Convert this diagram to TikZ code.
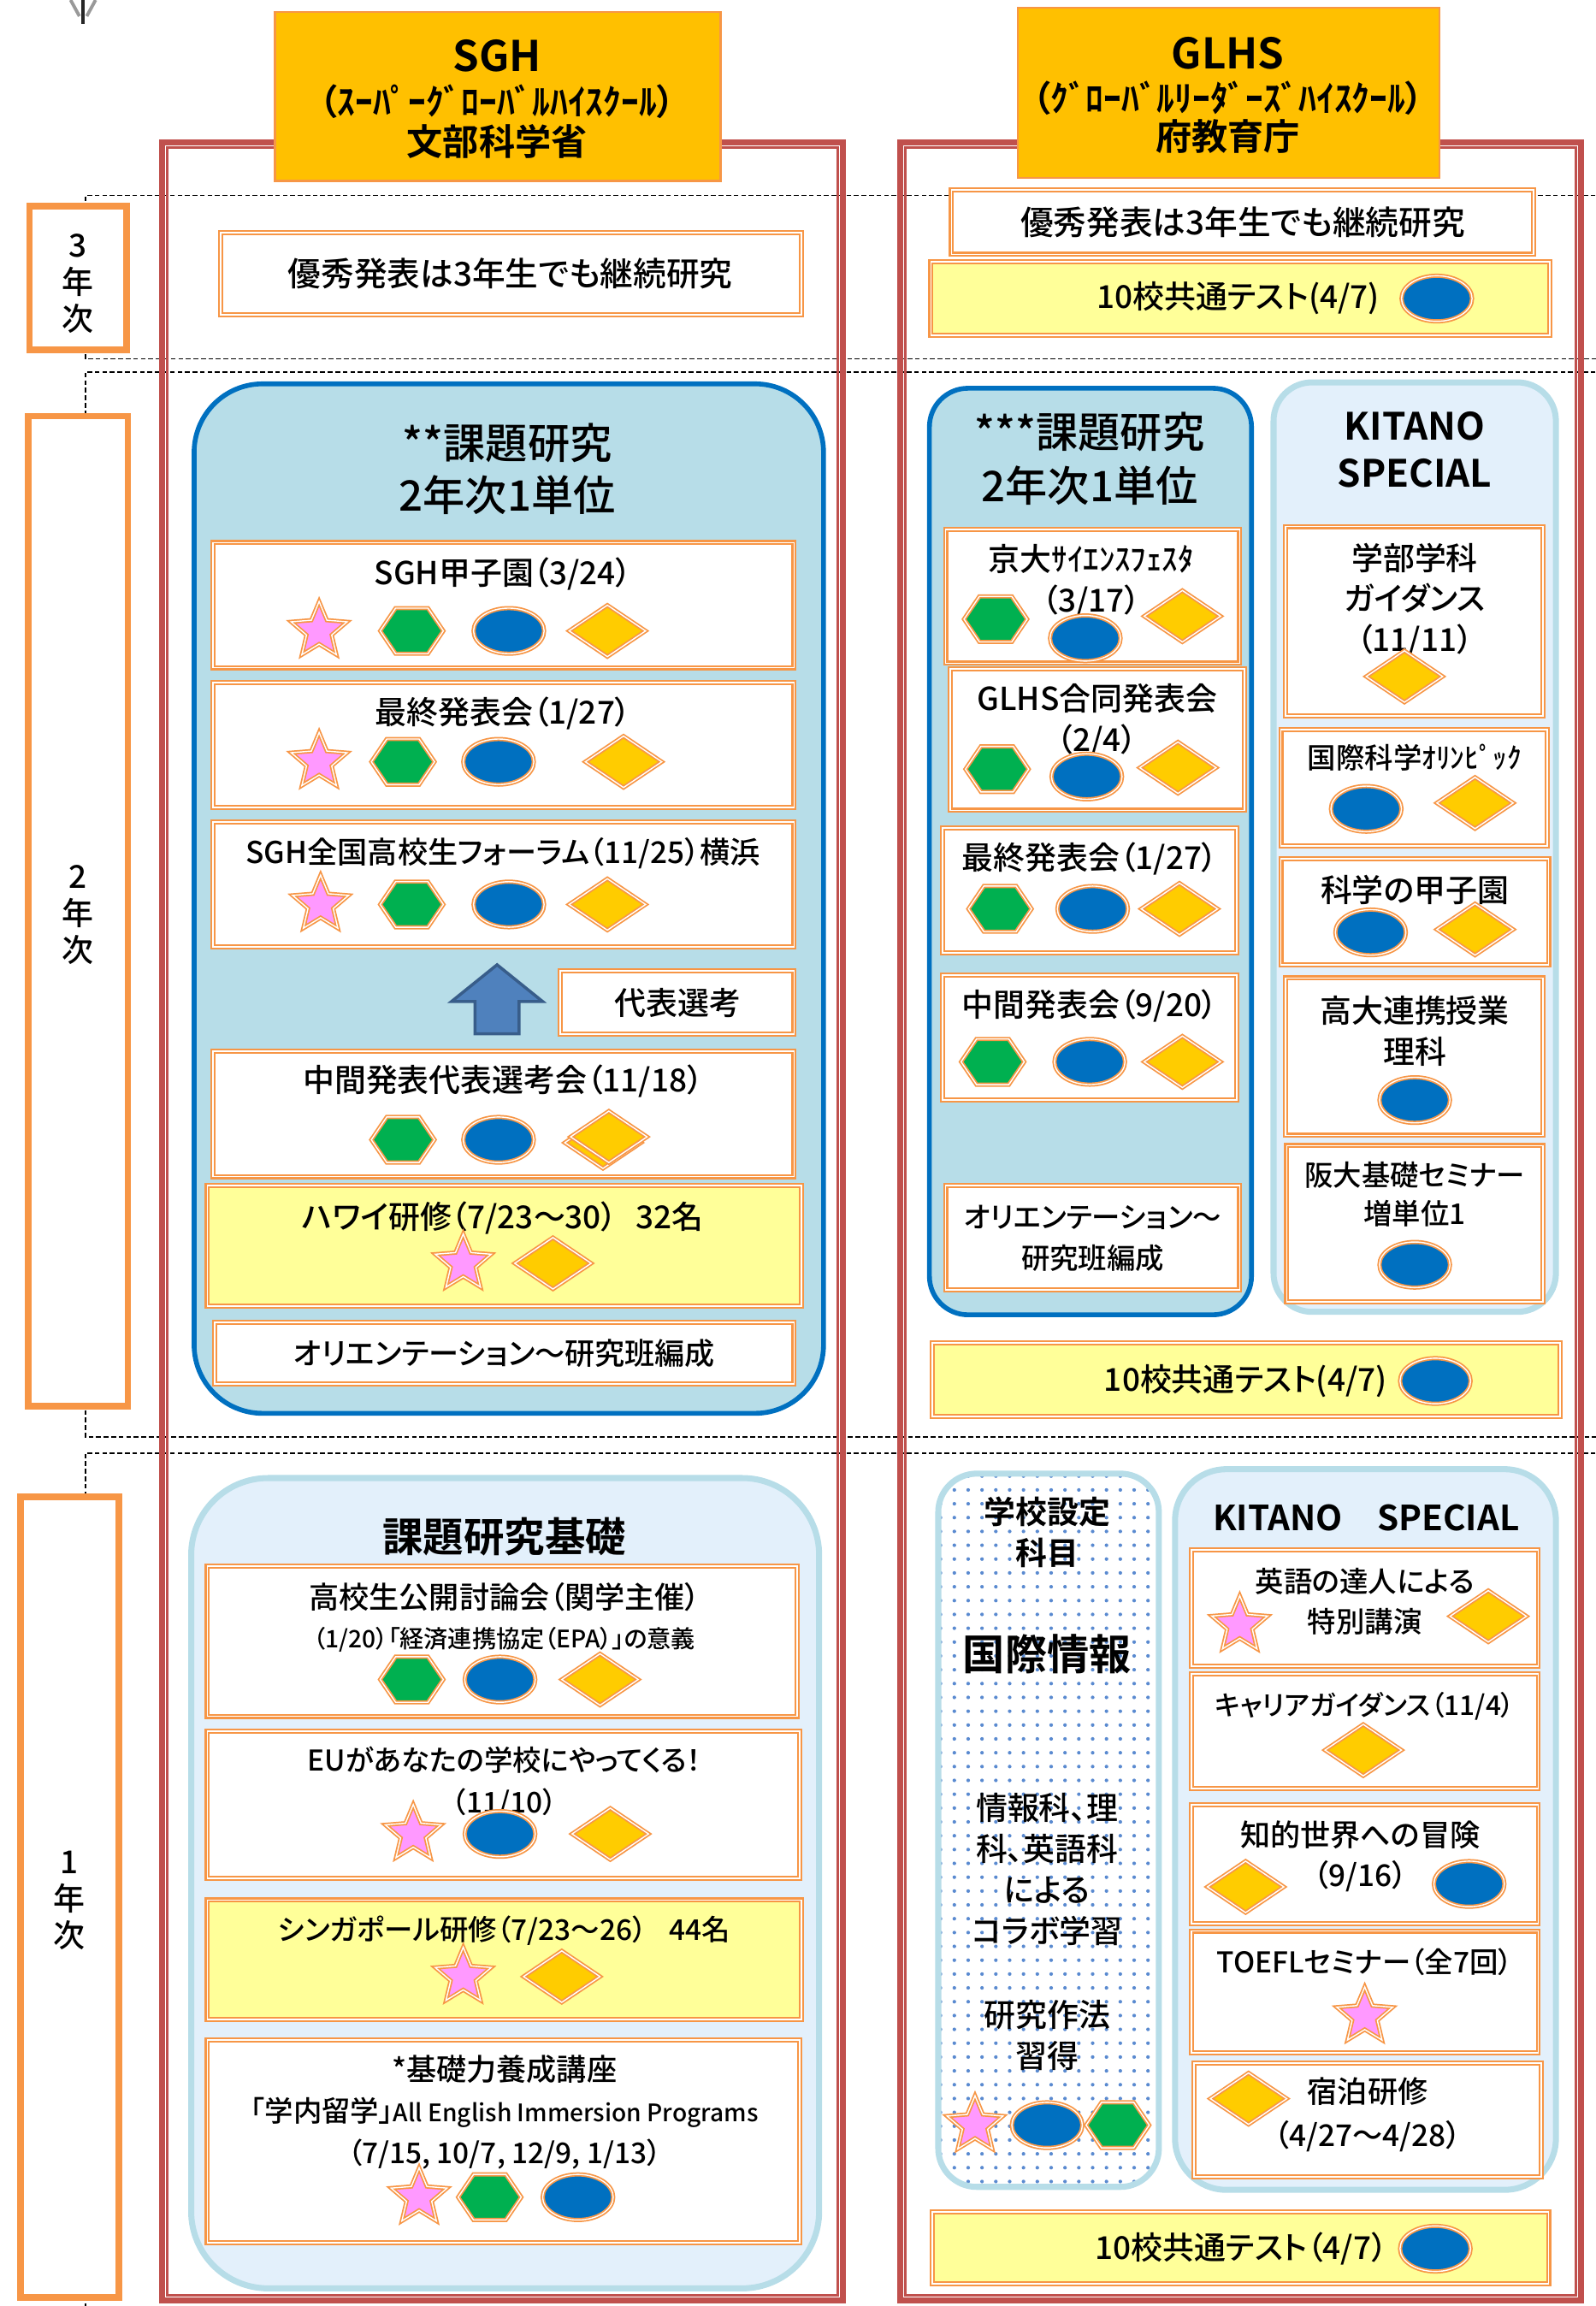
\documentclass[tikz,border=0pt]{standalone}
\usepackage{fontspec}
\setmainfont{Noto Sans CJK JP}[UprightFont={* Medium}, BoldFont={* Bold}, RawFeature=+palt]
\usetikzlibrary{patterns.meta}
\definecolor{orgline}{HTML}{F79646}
\definecolor{framered}{HTML}{C0504D}
\definecolor{headgold}{HTML}{FFC000}
\definecolor{testyellow}{HTML}{FFFF99}
\definecolor{deepblue}{HTML}{0070C0}
\definecolor{paleblue}{HTML}{B7DDE8}
\definecolor{iceblue}{HTML}{E3F0FB}
\definecolor{starpink}{HTML}{FF99FF}
\definecolor{hexgreen}{HTML}{00B050}
\definecolor{ovalblue}{HTML}{0070C0}
\definecolor{rhombgold}{HTML}{FFCC00}
\definecolor{arrowblue}{HTML}{4F81BD}
\definecolor{arrowedge}{HTML}{385D8A}
\definecolor{dotblue}{HTML}{5A8AD0}

\begin{document}
\begin{tikzpicture}[x=0.1719mm, y=-0.1719mm]
    \tikzset{
      band/.style={line width=0.45pt, dash pattern=on 1.6pt off 0.9pt},
      shapeline/.style={draw=orgline, line width=0.5pt, double=white, double distance=0.4pt},
      itembox/.style={draw=orgline, line width=0.6pt, double=white, double distance=0.5pt, fill=white},
      testbox/.style={itembox, fill=testyellow},
      yearbox/.style={draw=orgline, line width=2.2pt, fill=white},
      headbox/.style={draw=orgline, line width=0.6pt, fill=headgold},
      sghpanel/.style={draw=deepblue, line width=1.6pt, fill=paleblue},
      kitpanel/.style={draw=paleblue, line width=2pt, fill=iceblue},
      dotpanel/.style={draw=paleblue, line width=2pt, preaction={fill=white},
        pattern={Dots[radius=0.6pt, distance=4.6pt]}, pattern color=dotblue},
      txt/.style={align=center, inner sep=0pt, font=\fontsize{10.5}{13.6}\selectfont},
      headtxt/.style={align=center, inner sep=0pt, font=\bfseries\fontsize{11.8}{14}\selectfont},
      yeartxt/.style={align=center, inner sep=0pt, font=\fontsize{10.5}{12.2}\selectfont},
      starmark/.pic={
        \draw[shapeline, fill=starpink] (-90:20)
        foreach \k in {0,...,4} { -- ({-54+72*\k}:9) -- ({-18+72*\k}:20) } -- cycle;
      },
      hexmark/.pic={
        \draw[shapeline, fill=hexgreen]
        (-21.5,0) -- (-11,-15.5) -- (11,-15.5) -- (21.5,0) -- (11,15.5) -- (-11,15.5) -- cycle;
      },
      ovalmark/.pic={
        \draw[shapeline, fill=ovalblue] (0,0) ellipse [x radius=24, y radius=15.5];
      },
      rhombmark/.pic={
        \draw[shapeline, fill=rhombgold] (-26,0) -- (0,-17.5) -- (26,0) -- (0,17.5) -- cycle;
      },
    }
    \useasboundingbox (0,0) rectangle (1085,1568);

    \draw[gray!80, line width=1.1pt] (48,0) -- (54,11) (65,0) -- (59,11);
    \draw[gray!30!black, line width=1.3pt] (56.5,0) -- (56.5,16);

    \draw[band] (1090,133) -- (58,133) -- (58,244) -- (1090,244);
    \draw[band] (1090,253) -- (58,253) -- (58,977) -- (1090,977);
    \draw[band] (1090,988) -- (58,988) -- (58,1572);

    \foreach \xa/\xb in {110/573, 612/1075} {
      \draw[framered, line width=2pt] (\xa,97) rectangle (\xb,1564);
      \draw[framered, line width=0.8pt] (\xa+3.5,100.5) rectangle (\xb-3.5,1560.5);
    }

    \draw[headbox] (187,8) rectangle (490,123);
    \node[headtxt, font=\bfseries\fontsize{14}{16}\selectfont] (sghname) at (338,38) {SGH};
    \node[headtxt] (sghkana) at (338,69) {（ｽｰﾊﾟｰｸﾞﾛｰﾊﾞﾙﾊｲｽｸｰﾙ）};
    \node[headtxt, font=\bfseries\fontsize{12}{14}\selectfont] (sghmext) at (338,96) {文部科学省};
    \draw[headbox] (692,5) rectangle (979,121);
    \node[headtxt, font=\bfseries\fontsize{14}{16}\selectfont] (glhsname) at (835,36) {GLHS};
    \node[headtxt] (glhskana) at (835,67) {（ｸﾞﾛｰﾊﾞﾙﾘｰﾀﾞｰｽﾞﾊｲｽｸｰﾙ）};
    \node[headtxt, font=\bfseries\fontsize{12}{14}\selectfont] (glhsboe) at (835,93) {府教育庁};

    \draw[yearbox] (20,140) rectangle (86,238);
    \node[yeartxt] (year3) at (53,193) {3\\年\\次};
    \draw[yearbox] (19,283) rectangle (87,956);
    \node[yeartxt] (year2) at (53,622) {2\\年\\次};
    \draw[yearbox] (14,1018) rectangle (81,1562);
    \node[yeartxt] (year1) at (47,1292) {1\\年\\次};

    % 3年次
    \draw[itembox] (150,158) rectangle (545,214);
    \node[txt, font=\fontsize{11}{14}\selectfont] (sghkeep) at (347,186) {優秀発表は3年生でも継続研究};
    \draw[itembox] (647,129) rectangle (1043,173);
    \node[txt, font=\fontsize{11}{14}\selectfont] (glhskeep) at (845,151) {優秀発表は3年生でも継続研究};
    \draw[testbox] (633,178) rectangle (1054,228);
    \node[txt] (testthree) at (842,203) {10校共通テスト(4/7)};

    % 2年次 SGH
    \draw[sghpanel, rounded corners=8mm] (132,261) rectangle (560,961);
    \node[txt, font=\fontsize{14}{17.5}\selectfont] (sghkadai) at (345,319) {**課題研究\\2年次1単位};
    \draw[itembox] (145,369) rectangle (540,454);
    \node[txt] (koshien) at (342,390) {SGH甲子園（3/24）};
    \draw[itembox] (145,464) rectangle (540,549);
    \node[txt] (sghfinal) at (342,485) {最終発表会（1/27）};
    \draw[itembox] (145,559) rectangle (540,644);
    \node[txt, font=\fontsize{10}{13}\selectfont] (forum) at (342,580) {SGH全国高校生フォーラム（11/25）横浜};
    \draw[fill=arrowblue, draw=arrowedge, line width=1pt]
      (323,703) -- (323,681) -- (307,681) -- (338,656) -- (369,681) -- (353,681) -- (353,703) -- cycle;
    \draw[itembox] (381,660) rectangle (540,703);
    \node[txt] (daihyo) at (461,682) {代表選考};
    \draw[itembox] (145,715) rectangle (540,800);
    \node[txt] (sghmid) at (342,735) {中間発表代表選考会（11/18）};
    \draw[testbox] (141,806) rectangle (545,888);
    \node[txt] (hawaii) at (342,828) {ハワイ研修（7/23～30）\hspace{0.6em}32名};
    \draw[itembox] (146,899) rectangle (540,941);
    \node[txt, font=\fontsize{10}{13}\selectfont] (sghorient) at (343,920) {オリエンテーション～研究班編成};

    % 2年次 GLHS
    \draw[sghpanel, rounded corners=4.5mm] (632,264) rectangle (851,894);
    \node[txt, font=\fontsize{14}{18}\selectfont] (glhskadai) at (741,312) {***課題研究\\2年次1単位};
    \draw[itembox] (643,360) rectangle (843,451);
    \node[txt] (kyodai) at (742,395) {京大ｻｲｴﾝｽﾌｪｽﾀ\\（3/17）};
    \draw[itembox] (646,455) rectangle (846,551);
    \node[txt] (godo) at (746,490) {GLHS合同発表会\\（2/4）};
    \draw[itembox] (641,563) rectangle (841,648);
    \node[txt] (glhsfinal) at (741,584) {最終発表会（1/27）};
    \draw[itembox] (641,663) rectangle (841,748);
    \node[txt] (glhsmid) at (741,684) {中間発表会（9/20）};
    \draw[itembox] (643,806) rectangle (843,877);
    \node[txt, font=\fontsize{9.5}{13.6}\selectfont] (glhsorient) at (743,842) {オリエンテーション～\\研究班編成};

    \draw[kitpanel, rounded corners=4.5mm] (866,260) rectangle (1058,892);
    \node[txt, font=\bfseries\fontsize{12.5}{15.6}\selectfont] (kitano2) at (962,306) {KITANO\\SPECIAL};
    \draw[itembox] (874,358) rectangle (1049,487);
    \node[txt] (gakubu) at (962,408) {学部学科\\ガイダンス\\（11/11）};
    \draw[itembox] (871,496) rectangle (1052,575);
    \node[txt, font=\fontsize{9.5}{13}\selectfont] (olympic) at (962,515) {国際科学ｵﾘﾝﾋﾟｯｸ};
    \draw[itembox] (871,584) rectangle (1053,656);
    \node[txt] (kagaku) at (962,605) {科学の甲子園};
    \draw[itembox] (874,665) rectangle (1049,772);
    \node[txt] (kodai) at (962,701) {高大連携授業\\理科};
    \draw[itembox] (875,779) rectangle (1049,885);
    \node[txt, font=\fontsize{9.5}{12.8}\selectfont] (handai) at (962,812) {阪大基礎セミナー\\増単位1};
    \draw[testbox] (634,913) rectangle (1061,963);
    \node[txt] (testtwo) at (847,939) {10校共通テスト(4/7)};

    % 1年次 SGH
    \draw[kitpanel, rounded corners=9mm] (130,1005) rectangle (557,1556);
    \node[txt, font=\bfseries\fontsize{13.5}{16}\selectfont] (kiso) at (343,1045) {課題研究基礎};
    \draw[itembox] (141,1065) rectangle (542,1167);
    \node[txt, font=\fontsize{10}{13}\selectfont] (tougi) at (343,1086) {高校生公開討論会（関学主催）};
    \node[txt, font=\fontsize{8}{10}\selectfont] (epa) at (343,1115) {（1/20）「経済連携協定（EPA）」の意義};
    \draw[itembox] (141,1177) rectangle (544,1277);
    \node[txt, font=\fontsize{9.5}{14}\selectfont] (eu) at (343,1212) {EUがあなたの学校にやってくる！\\（11/10）};
    \draw[testbox] (141,1292) rectangle (545,1373);
    \node[txt, font=\fontsize{9.5}{13}\selectfont] (singapore) at (343,1313) {シンガポール研修（7/23～26）\hspace{0.8em}44名};
    \draw[itembox] (141,1387) rectangle (544,1525);
    \node[txt, font=\fontsize{9.5}{13.8}\selectfont] (ryugaku) at (343,1436)
      {{\fontsize{10}{13.8}\selectfont *基礎力養成講座}\\「学内留学」{\fontsize{8}{13.8}\selectfont All English Immersion Programs}\\（7/15, 10/7, 12/9, 1/13）};

    % 1年次 GLHS
    \draw[dotpanel, rounded corners=4.5mm] (638,1002) rectangle (788,1487);
    \node[txt, font=\bfseries\fontsize{10.5}{13.6}\selectfont] (settei) at (712,1042) {学校設定\\科目};
    \node[txt, font=\bfseries\fontsize{14}{16}\selectfont] (kokusai) at (712,1125) {国際情報};
    \node[txt] (collabo) at (712,1271) {情報科、理\\科、英語科\\による\\コラボ学習};
    \node[txt] (saho) at (712,1384) {研究作法\\習得};

    \draw[kitpanel, rounded corners=6mm] (799,999) rectangle (1058,1489);
    \node[txt, font=\bfseries\fontsize{11.5}{14}\selectfont] (kitano1) at (929,1032) {KITANO\hspace{1em}SPECIAL};
    \draw[itembox] (810,1054) rectangle (1046,1133);
    \node[txt, font=\fontsize{9.5}{13.6}\selectfont] (tatsujin) at (928,1089) {英語の達人による\\特別講演};
    \draw[itembox] (810,1138) rectangle (1046,1216);
    \node[txt, font=\fontsize{9}{13}\selectfont] (career) at (928,1160) {キャリアガイダンス（11/4）};
    \draw[itembox] (810,1227) rectangle (1046,1308);
    \node[txt, font=\fontsize{10}{13.4}\selectfont] (boken) at (925,1262) {知的世界への冒険\\（9/16）};
    \draw[itembox] (810,1313) rectangle (1046,1396);
    \node[txt, font=\fontsize{9.5}{13}\selectfont] (toefl) at (928,1334) {TOEFLセミナー（全7回）};
    \draw[itembox] (812,1403) rectangle (1048,1480);
    \node[txt, font=\fontsize{10}{14.6}\selectfont] (shukuhaku) at (930,1438) {宿泊研修\\（4/27～4/28）};
    \draw[testbox] (634,1504) rectangle (1053,1553);
    \node[txt] (testone) at (844,1529) {10校共通テスト（4/7）};

    \foreach \x/\y in {217/429, 217/518, 218/615, 315/859, 281/1247, 315/1344, 285/1494,
                       663/1445, 843/1105, 928/1371}
      \pic at (\x,\y) {starmark};
    \foreach \x/\y in {280/429, 274/518, 280/615, 274/775, 677/421, 678/523, 680/618, 675/722,
                       280/1142, 333/1494, 760/1445}
      \pic at (\x,\y) {hexmark};
    \foreach \x/\y in {346/429, 339/518, 346/615, 339/775, 738/434, 739/528, 743/618, 741/722,
                       929/550, 932/634, 962/748, 962/860, 977/203, 976/939,
                       340/1142, 340/1247, 393/1494, 712/1445, 999/1281, 976/1529}
      \pic at (\x,\y) {ovalmark};
    \foreach \x/\y in {413/429, 424/518, 413/615, 410/777, 414/773, 376/859, 804/419, 801/522,
                       802/618, 804/722, 955/460, 1003/546, 1003/632, 408/1142, 415/1247,
                       382/1344, 1012/1099, 927/1190, 847/1283, 849/1427}
      \pic at (\x,\y) {rhombmark};
\end{tikzpicture}
\end{document}
